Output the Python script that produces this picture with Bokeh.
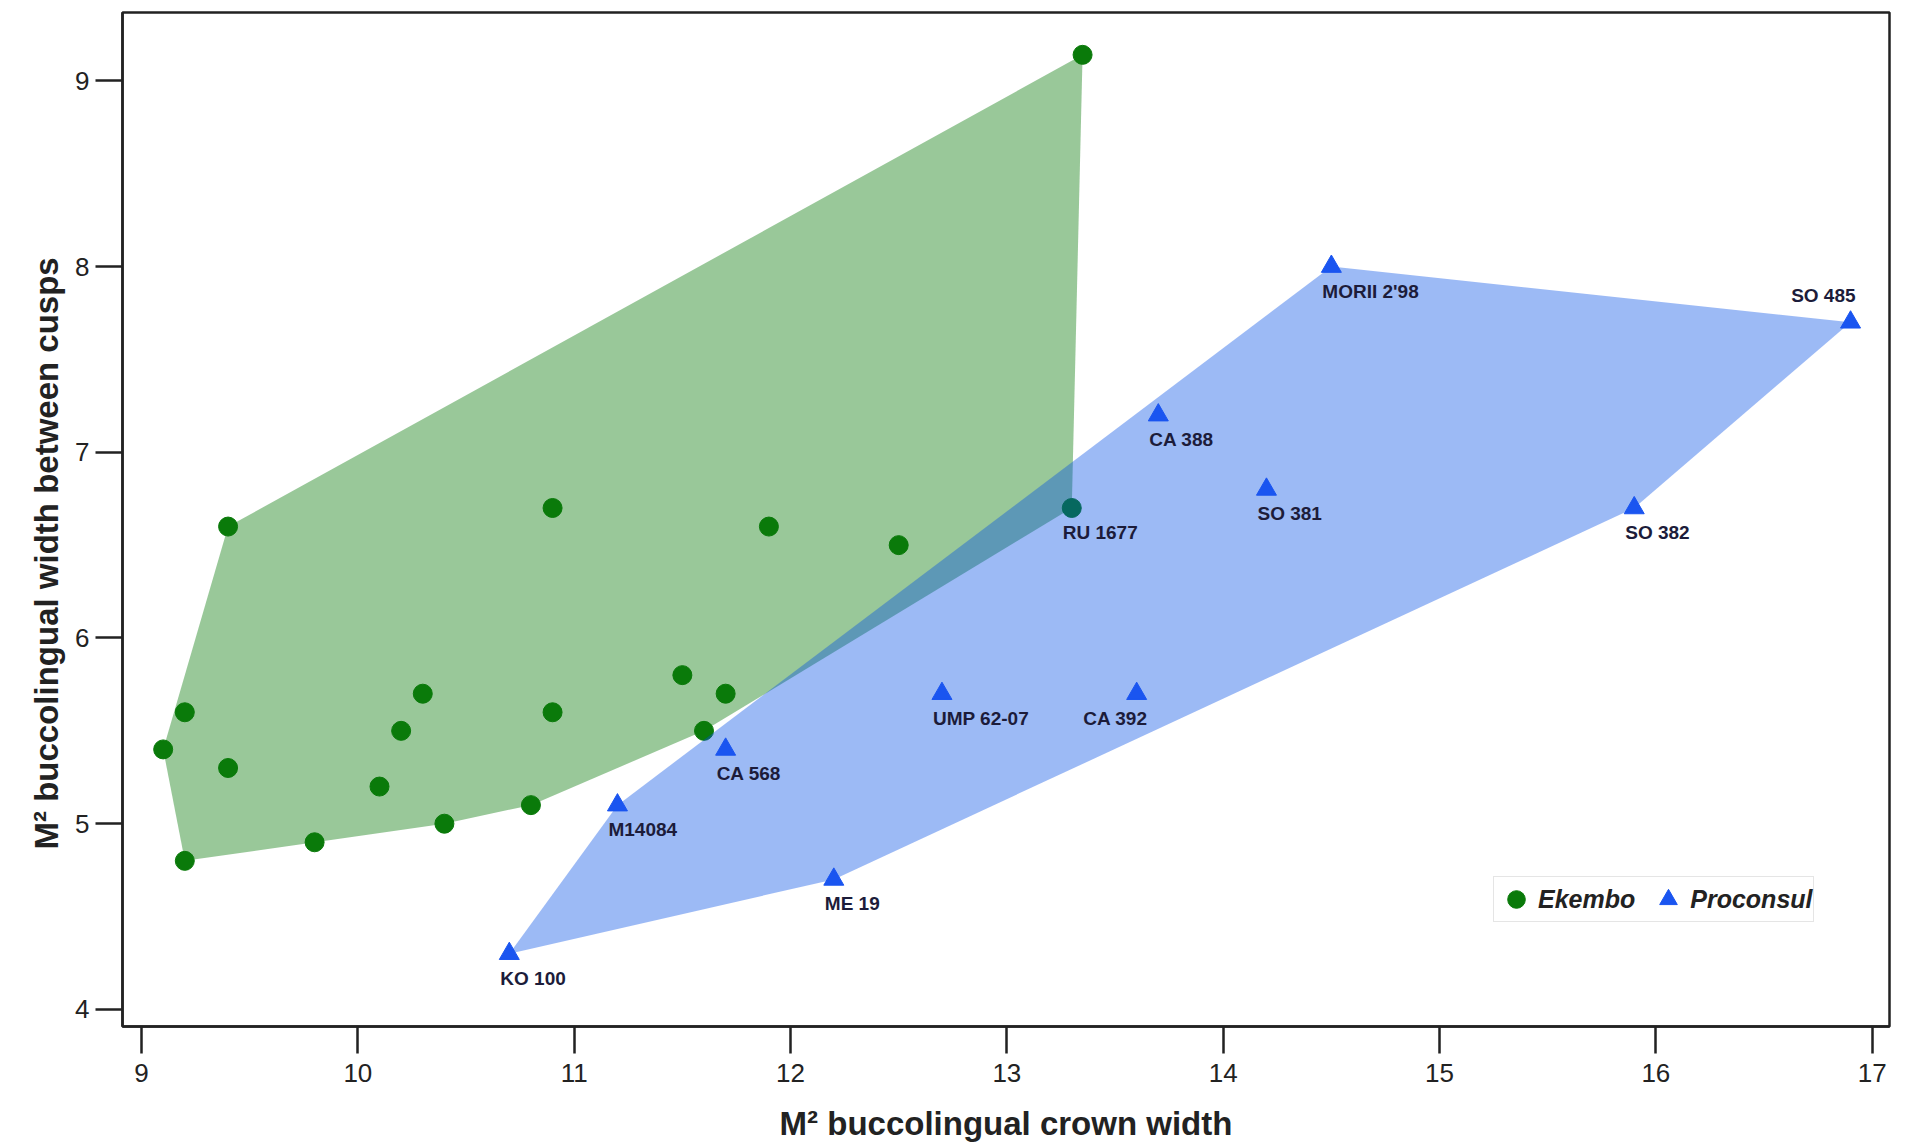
import numpy as np
from bokeh.plotting import figure
from bokeh.models import ColumnDataSource, FixedTicker, Legend, LegendItem, Title
from bokeh.core.properties import value
from bokeh.embed import file_html
from bokeh.resources import INLINE

# ---------------- data ----------------
ekembo_x = [13.35, 9.4, 10.9, 11.9, 12.5, 13.3, 9.1, 9.2, 9.4, 9.2,
            9.8, 10.1, 10.2, 10.3, 10.4, 10.8, 10.9, 11.5, 11.7, 11.6]
ekembo_y = [9.14, 6.6, 6.7, 6.6, 6.5, 6.7, 5.4, 5.6, 5.3, 4.8,
            4.9, 5.2, 5.5, 5.7, 5.0, 5.1, 5.6, 5.8, 5.7, 5.5]
ekembo_labels = ["", "", "", "", "", "RU 1677", "", "", "", "",
                 "", "", "", "", "", "", "", "", "", ""]

proconsul_names = ["MORII 2'98", "SO 485", "CA 388", "SO 381", "SO 382",
                   "UMP 62-07", "CA 392", "CA 568", "M14084", "ME 19", "KO 100"]
proconsul_x = [14.5, 16.9, 13.7, 14.2, 15.9, 12.7, 13.6, 11.7, 11.2, 12.2, 10.7]
proconsul_y = [8.0, 7.7, 7.2, 6.8, 6.7, 5.7, 5.7, 5.4, 5.1, 4.7, 4.3]

x_ticks = [9, 10, 11, 12, 13, 14, 15, 16, 17]
y_ticks = [4, 5, 6, 7, 8, 9]

x_title = "M\u00b2 buccolingual crown width"
y_title = "M\u00b2 buccolingual width between cusps"
series_names = ["Ekembo", "Proconsul"]

# label placement styles (exceptions to "below, left-aligned")
label_style = {"CA 392": "below_right", "SO 485": "above_right"}


def convex_hull(xs, ys):
    pts = sorted(set(zip(xs, ys)))

    def cross(o, a, b):
        return (a[0] - o[0]) * (b[1] - o[1]) - (a[1] - o[1]) * (b[0] - o[0])

    lower = []
    for pt in pts:
        while len(lower) >= 2 and cross(lower[-2], lower[-1], pt) <= 0:
            lower.pop()
        lower.append(pt)
    upper = []
    for pt in reversed(pts):
        while len(upper) >= 2 and cross(upper[-2], upper[-1], pt) <= 0:
            upper.pop()
        upper.append(pt)
    hull = lower[:-1] + upper[:-1]
    return [h[0] for h in hull], [h[1] for h in hull]


FONT = "Liberation Sans"
INK = "#222222"
GREEN_FILL = "#007500"
BLUE_FILL = "#004ce5"
GREEN_MARK = "#0a7a0a"
BLUE_MARK = "#1a55f0"
LABEL_INK = "#1c1c3a"

p = figure(width=1905, height=1146,
           x_range=(8.912, 17.08), y_range=(3.908, 9.368),
           output_backend="svg", toolbar_location=None,
           min_border_left=122, min_border_right=16,
           min_border_top=12, min_border_bottom=120)

p.grid.visible = False
p.outline_line_color = INK
p.outline_line_width = 2.5
p.background_fill_color = "white"
p.border_fill_color = "white"

# hulls
gx, gy = convex_hull(ekembo_x, ekembo_y)
bx, by = convex_hull(proconsul_x, proconsul_y)

p.patch(gx, gy, fill_color=GREEN_FILL, fill_alpha=0.40, line_color=None)
green = p.scatter(ekembo_x, ekembo_y, marker="circle", size=19,
                  fill_color=GREEN_MARK, line_color=GREEN_MARK)
p.patch(bx, by, fill_color=BLUE_FILL, fill_alpha=0.39, line_color=None)
blue = p.scatter(proconsul_x, proconsul_y, marker="triangle", size=20,
                 fill_color=BLUE_MARK, line_color=BLUE_MARK)

# labels
groups = {"below_left": ([], [], []), "below_right": ([], [], []), "above_right": ([], [], [])}
for n, x, y in zip(proconsul_names, proconsul_x, proconsul_y):
    g = groups[label_style.get(n, "below_left")]
    g[0].append(x); g[1].append(y); g[2].append(n)
for n, x, y in zip(ekembo_labels, ekembo_x, ekembo_y):
    if n:
        g = groups["below_left"]
        g[0].append(x); g[1].append(y); g[2].append(n)

placement = {
    "below_left": dict(text_align="left", text_baseline="top", x_offset=-9, y_offset=14),
    "below_right": dict(text_align="right", text_baseline="top", x_offset=11, y_offset=14),
    "above_right": dict(text_align="right", text_baseline="bottom", x_offset=5, y_offset=-16),
}
for key, (xs, ys, ts) in groups.items():
    if not xs:
        continue
    src = ColumnDataSource(dict(x=xs, y=ys, t=ts))
    p.text("x", "y", text="t", source=src, text_font=value(FONT),
           text_font_size="19px", text_font_style="bold", text_color=LABEL_INK,
           **placement[key])

# axes
for ax in (p.xaxis[0], p.yaxis[0]):
    ax.axis_line_color = INK
    ax.axis_line_width = 2.5
    ax.major_tick_line_color = INK
    ax.major_tick_line_width = 2.5
    ax.major_tick_out = 27
    ax.major_tick_in = 0
    ax.minor_tick_line_color = None
    ax.major_label_text_font = FONT
    ax.major_label_text_font_size = "26px"
    ax.major_label_text_color = INK
    ax.axis_label_text_font = FONT
    ax.axis_label_text_font_size = "33px"
    ax.axis_label_text_font_style = "bold"
    ax.axis_label_text_color = INK

p.xaxis[0].ticker = FixedTicker(ticks=x_ticks)
p.yaxis[0].ticker = FixedTicker(ticks=y_ticks)
p.xaxis[0].axis_label = x_title
p.xaxis[0].major_label_standoff = 10
p.xaxis[0].axis_label_standoff = 20
p.yaxis[0].major_label_standoff = 6

# y title: placed off-centre (towards the bottom) as in the original
ytitle = Title(text=y_title, align="left", offset=177, standoff=16,
               text_font=FONT, text_font_size="33px", text_font_style="bold",
               text_color=INK)
p.add_layout(ytitle, "left")

legend = Legend(items=[LegendItem(label=series_names[0], renderers=[green]),
                       LegendItem(label=series_names[1], renderers=[blue])],
                orientation="horizontal", location=(1371, 104),
                border_line_color="#cccccc", border_line_width=1.5,
                background_fill_color="white", background_fill_alpha=1.0,
                padding=0, spacing=11, label_standoff=-5,
                glyph_width=44, glyph_height=44,
                label_text_font=FONT, label_text_font_size="25px",
                label_text_font_style="bold italic", label_text_color=INK)
p.add_layout(legend)

open("out.html", "w").write(file_html(p, INLINE))
